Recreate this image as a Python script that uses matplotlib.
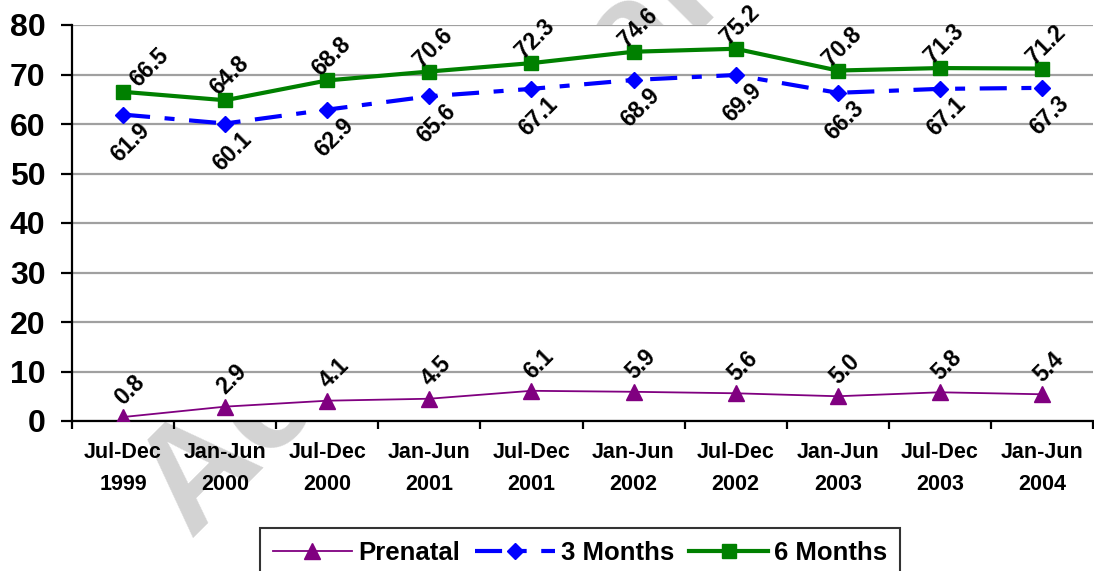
import numpy as np
import matplotlib
matplotlib.use('Agg')
import matplotlib.pyplot as plt

plt.rcParams['font.family'] = ['Liberation Sans', 'DejaVu Sans']
plt.rcParams['font.weight'] = 'bold'

# Reporting periods and rates (%)
periods = ['Jul-Dec\n1999', 'Jan-Jun\n2000', 'Jul-Dec\n2000', 'Jan-Jun\n2001',
           'Jul-Dec\n2001', 'Jan-Jun\n2002', 'Jul-Dec\n2002', 'Jan-Jun\n2003',
           'Jul-Dec\n2003', 'Jan-Jun\n2004']
prenatal = [0.8, 2.9, 4.1, 4.5, 6.1, 5.9, 5.6, 5.0, 5.8, 5.4]
three_months = [61.9, 60.1, 62.9, 65.6, 67.1, 68.9, 69.9, 66.3, 67.1, 67.3]
six_months = [66.5, 64.8, 68.8, 70.6, 72.3, 74.6, 75.2, 70.8, 71.3, 71.2]

W, H = 1094, 571
fig = plt.figure(figsize=(W / 100, H / 100), dpi=100)

# faint stamp behind the plot area
fig.text(190 / W, 1 - 538 / H, 'Accidental', rotation=45, rotation_mode='anchor',
         ha='left', va='baseline', fontsize=107, color='#d3d3d3',
         fontweight='bold', zorder=-1)

ax = fig.add_axes([72 / W, 1 - 421 / H, 1021 / W, 396 / H])
ax.set_facecolor('white')

x = np.arange(len(periods))
l1, = ax.plot(x, prenatal, color='#800080', lw=1.3, marker='^', ms=11,
              label='Prenatal', zorder=3)
l2, = ax.plot(x, three_months, color='#0000ff', lw=3, marker='D', ms=8,
              dashes=(6.5, 3.5, 2.4, 3.5), label='3 Months', zorder=3)
l3, = ax.plot(x, six_months, color='#008000', lw=3, marker='s', ms=9.5,
              label='6 Months', zorder=3)

# value labels, tilted
def label_points(values, dy, dx=3, first_dx=None):
    for i, (xi, v) in enumerate(zip(x, values)):
        ox = first_dx if (i == 0 and first_dx is not None) else dx
        ax.annotate(f'{v:.1f}', (xi, v), xytext=(ox, dy), textcoords='offset points',
                    rotation=45, rotation_mode='anchor', ha='center', va='center',
                    fontsize=16.5, fontweight='bold', zorder=4)

label_points(six_months, 17.5, first_dx=19)
label_points(three_months, -20, dx=5)
label_points(prenatal, 19.5, dx=5)

ax.set_xlim(-0.5, len(periods) - 0.5)
ax.set_ylim(0, 80)
ax.set_yticks(np.arange(0, 81, 10))
ax.yaxis.grid(True, color='#a0a0a0', lw=1.6)
ax.set_axisbelow(True)

for s in ['top', 'right']:
    ax.spines[s].set_visible(False)
for s in ['left', 'bottom']:
    ax.spines[s].set_linewidth(1.6)
    ax.spines[s].set_color('black')

ax.tick_params(axis='y', length=8, width=1.6, direction='out', labelsize=23, pad=11)

# tick marks between periods, labels centred under each period
ax.set_xticks(np.arange(-0.5, len(periods), 1))
ax.set_xticklabels([])
ax.set_xticks(x, minor=True)
ax.set_xticklabels(periods, minor=True, fontsize=15.5, fontweight='bold',
                   linespacing=1.7)
ax.tick_params(axis='x', which='major', length=6, width=1.6, direction='out')
ax.tick_params(axis='x', which='minor', length=0, pad=15)

leg = fig.legend(handles=[l1, l2, l3], loc='upper center',
                 bbox_to_anchor=(580 / W, 1 - 528 / H), ncol=3, frameon=True,
                 fancybox=False, edgecolor='black', fontsize=18.5,
                 handlelength=3.1, handletextpad=0.23, columnspacing=0.58,
                 borderpad=0.5, borderaxespad=0)
leg.get_frame().set_linewidth(1.5)

fig.savefig('out.png', dpi=100, facecolor='white')
